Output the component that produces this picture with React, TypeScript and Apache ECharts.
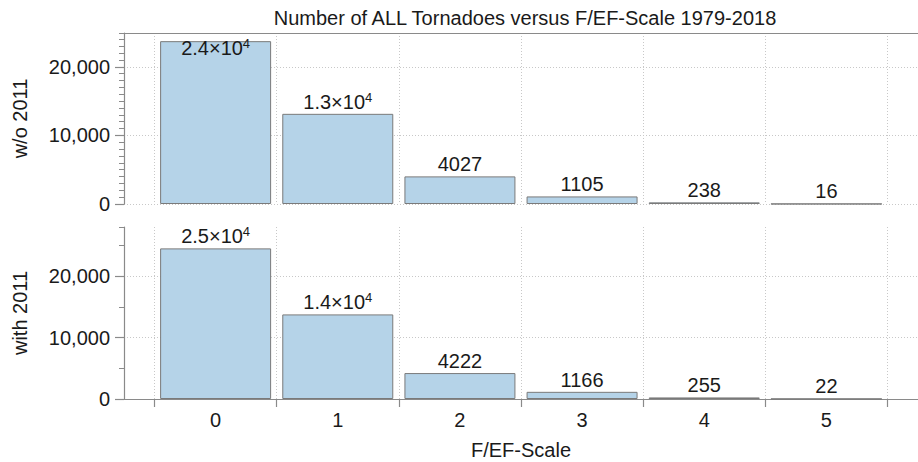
import React, { useEffect, useRef } from "react";
import * as echarts from "echarts";

// F/EF rating categories
const scales = [0, 1, 2, 3, 4, 5];
// Tornado counts per rating, 1979-2018
const countsWithout2011 = [23750, 13150, 4027, 1105, 238, 16];
const countsWith2011 = [24520, 13770, 4222, 1166, 255, 22];
// Labelled count ticks
const countTicks = [0, 10000, 20000];
// Boundaries between rating bins (tick marks / vertical grid)
const binEdges = [-0.5, 0.5, 1.5, 2.5, 3.5, 4.5, 5.5];

const panelNames = ["w/o 2011", "with 2011"];
const titleText = "Number of ALL Tornadoes versus F/EF-Scale 1979-2018";
const xAxisName = "F/EF-Scale";

const FONT = '"Liberation Sans", Arial, Helvetica, sans-serif';
const TEXT = "#1a1a1a";
const AXIS = "#8a8a8a";
const GRIDLINE = "#c8c8c8";

// panel geometry
const X_MIN = -0.75;
const X_MAX = 5.75;
const PLOT_LEFT = 124;
const PLOT_WIDTH = 802;
const panels = [
  { top: 33, height: 171, yMax: 24940, minorStep: 1000 },
  { top: 227, height: 172, yMax: 28000, minorStep: 5000 },
];

function countLabel(v: number): string {
  if (v >= 10000) {
    const exp = Math.floor(Math.log10(v));
    const mant = (v / Math.pow(10, exp)).toFixed(1);
    return `{m|${mant}×10}{e|${exp}}`;
  }
  return `{m|${v}}`;
}

const labelRich = {
  m: { fontSize: 20, fontFamily: FONT, color: TEXT, lineHeight: 22 },
  e: { fontSize: 13, fontFamily: FONT, color: TEXT, lineHeight: 12, verticalAlign: "top" as const },
};

const dotted = { color: GRIDLINE, width: 1, type: [1, 2] as number[] };

export default function App() {
  const ref = useRef<HTMLDivElement>(null);

  useEffect(() => {
    if (!ref.current) return;
    const chart = echarts.init(ref.current, undefined, { renderer: "svg" });

    const grids = panels.map((p) => ({
      left: PLOT_LEFT,
      top: p.top,
      width: PLOT_WIDTH,
      height: p.height,
    }));

    const xAxes = panels.map((_, gi) => {
      const bottom = gi === panels.length - 1;
      return {
        type: "value" as const,
        gridIndex: gi,
        min: X_MIN,
        max: X_MAX,
        position: bottom ? ("bottom" as const) : ("top" as const),
        axisLine: { show: true, onZero: false, lineStyle: { color: AXIS, width: 1.2 } },
        axisTick: {
          show: bottom,
          length: 8,
          customValues: binEdges,
          lineStyle: { color: AXIS, width: 1.2 },
        },
        axisLabel: {
          show: bottom,
          customValues: scales,
          fontSize: 20,
          fontFamily: FONT,
          color: TEXT,
          margin: 11,
        },
        splitLine: { show: true, lineStyle: dotted },
        name: bottom ? xAxisName : "",
        nameLocation: "middle" as const,
        nameGap: 41,
        nameTextStyle: { fontSize: 20, fontFamily: FONT, color: TEXT },
      };
    });

    const yAxes: any[] = [];
    panels.forEach((p, gi) => {
      yAxes.push({
        type: "value",
        gridIndex: gi,
        min: 0,
        max: p.yMax,
        position: "left",
        axisLine: { show: true, onZero: false, lineStyle: { color: AXIS, width: 1.2 } },
        axisTick: { show: true, length: 9, customValues: countTicks, lineStyle: { color: AXIS, width: 1.2 } },
        axisLabel: {
          customValues: countTicks,
          formatter: (v: number) => v.toLocaleString("en-US"),
          fontSize: 20,
          fontFamily: FONT,
          color: TEXT,
          margin: 14,
        },
        splitLine: { show: true, lineStyle: dotted },
        name: panelNames[gi],
        nameLocation: "middle",
        nameGap: 94,
        nameTextStyle: { fontSize: 20, fontFamily: FONT, color: TEXT },
      });
      yAxes.push({
        type: "value",
        gridIndex: gi,
        min: 0,
        max: p.yMax,
        interval: p.minorStep,
        position: "left",
        axisLine: { show: false, onZero: false },
        axisTick: { show: true, length: 5, lineStyle: { color: AXIS, width: 1 } },
        axisLabel: { show: false },
        splitLine: { show: false },
      });
    });

    const seriesData = [countsWithout2011, countsWith2011];
    const series = seriesData.map((counts, gi) => ({
      type: "bar" as const,
      xAxisIndex: gi,
      yAxisIndex: gi * 2,
      barWidth: 111,
      data: scales.map((s, i) => {
        const v = counts[i];
        // a label that would run into the top frame is tucked down into the bar
        const crowded = v > panels[gi].yMax * 0.93;
        return crowded
          ? { value: [s, v], label: { offset: [0, 19] } }
          : { value: [s, v] };
      }),
      itemStyle: { color: "#b5d3e8", borderColor: "#7a7a7a", borderWidth: 1 },
      label: {
        show: true,
        position: "top" as const,
        distance: 1,
        formatter: (p: any) => countLabel(p.value[1]),
        rich: labelRich,
      },
    }));

    chart.setOption({
      animation: false,
      backgroundColor: "#ffffff",
      grid: grids,
      xAxis: xAxes,
      yAxis: yAxes,
      series,
      graphic: [
        {
          type: "text",
          x: PLOT_LEFT + PLOT_WIDTH / 2,
          y: 8,
          style: {
            text: titleText,
            fontSize: 20,
            fontFamily: FONT,
            fill: TEXT,
            textAlign: "center",
            textVerticalAlign: "top",
          },
        },
      ],
    });

    return () => chart.dispose();
  }, []);

  return (
    <div
      ref={ref}
      style={{ position: "fixed", left: 0, top: 0, width: 918, height: 462, background: "#fff" }}
    />
  );
}
